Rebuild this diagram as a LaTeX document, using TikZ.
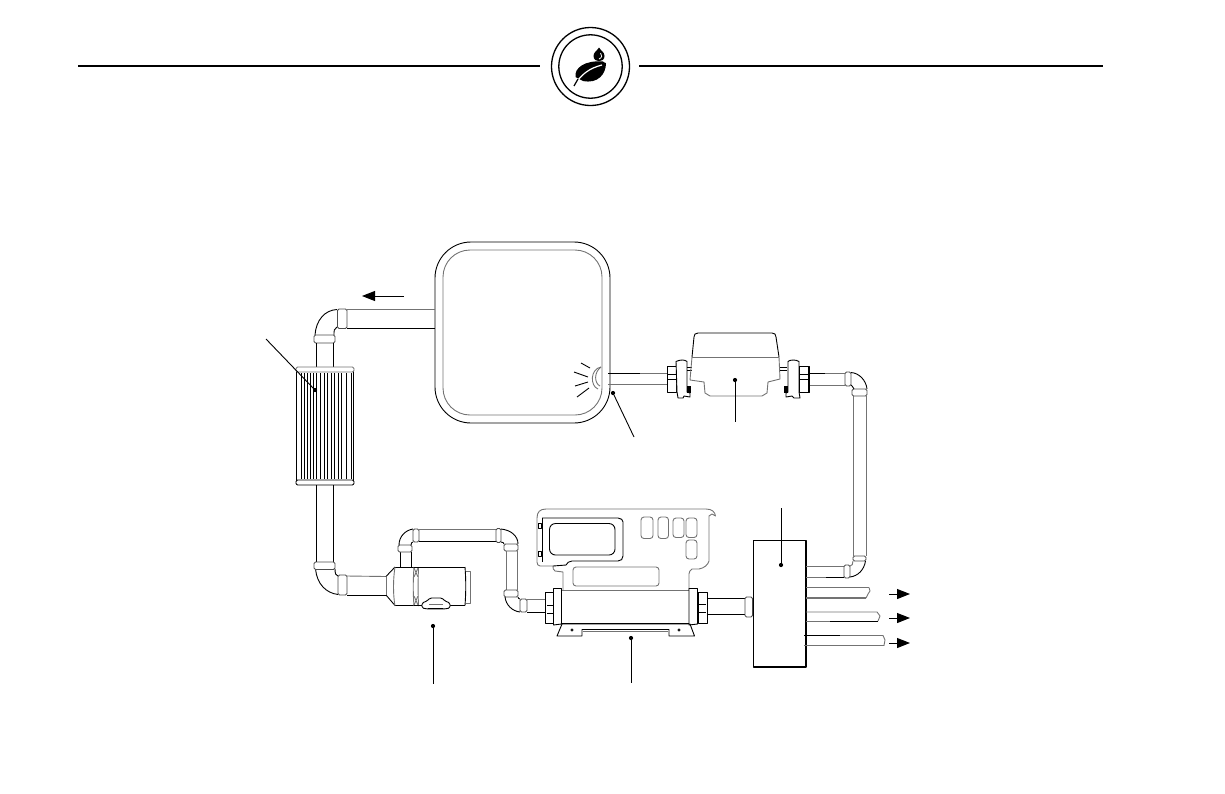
\documentclass[tikz,border=0pt]{standalone}
\usetikzlibrary{arrows.meta}
\tikzset{
 ln/.style={draw=black,line width=0.9pt,line join=round},
 gl/.style={draw=black!55,line width=0.9pt,line join=round},
 rule/.style={draw=black,line width=1.5pt},
 lead/.style={draw=black,line width=0.9pt},
 dot/.style={circle,fill=black,inner sep=0pt,minimum size=4.2pt},
 flowarr/.style={draw=black,line width=1pt,-{Triangle[length=13pt,width=10pt]}},
 collar/.style={draw=black!70,line width=0.9pt,rounded corners=1.5pt,fill=white},
}
\begin{document}
\begin{tikzpicture}[x=1pt,y=-1pt]
\useasboundingbox (0,0) rectangle (1225,793);
% header
\draw[rule] (78,66) -- (540,66);
\draw[rule] (639,66) -- (1103,66);
\draw[line width=1.3pt] (590.5,66.5) circle (39);
\draw[line width=1.3pt] (590.5,66.5) circle (31.7);
% logo
\fill (599,47.5) .. controls (601,51) and (604.5,52) .. (604.5,56) .. controls (604.5,63) and (593.5,63) .. (593.5,56) .. controls (593.5,52) and (597,51) .. (599,47.5) -- cycle;
\draw[white,line width=0.8pt] (600.5,53) .. controls (602.5,55) and (602,58) .. (599,59);
\fill (575.5,77) .. controls (574,68) and (585,60) .. (603,61.5) .. controls (604,62) and (606,64) .. (606,63) .. controls (606,74) and (598,84) .. (583,81) -- cycle;
\draw[white,line width=1.2pt] (574,86) .. controls (581,74) and (590,68) .. (602,65);
\draw[black,line width=1.2pt] (574,86) -- (578,79);
% tank
\draw[ln,rounded corners=36pt] (435,242) rectangle (610,423);
\draw[gl,rounded corners=27pt] (443,250) rectangle (602,415);
% tank light
\draw[gl] (601,367) .. controls (590,369) and (590,386) .. (598,389);
\draw[gl] (601,367) .. controls (594,372) and (594,383) .. (600,386);
\coordinate (r1a) at (581,363); \coordinate (r1b) at (590,368);
\coordinate (r2a) at (574,372); \coordinate (r2b) at (588,377);
\coordinate (r3a) at (575,386); \coordinate (r3b) at (588,382);
\coordinate (r4a) at (577,397); \coordinate (r4b) at (589,388);
\draw[ln] (r1a)--(r1b) (r2a)--(r2b) (r3a)--(r3b) (r4a)--(r4b);
% return pipe & elbow top-left
\draw[gl] (347,309.5) -- (435,309.5);
\draw[ln] (347,328) -- (435,328);
\draw[ln] (337,309.5) .. controls (325,310) and (316,320) .. (315,335);
\draw[ln] (337,327) .. controls (334,328) and (334,331) .. (334,335);
\draw[collar] (337.5,309) rectangle (347,328.5);
\draw[collar] (314,335) rectangle (335,343);
\draw[ln] (316.5,343) -- (316.5,367) (333.5,343) -- (333.5,367);
\coordinate (arr1s) at (404,296); \coordinate (arr1e) at (362,296);
\draw[flowarr] (arr1s) -- (arr1e);
% filter
\draw[ln] (296.5,368) rectangle (353.5,484);
\draw[gl,rounded corners=1.5pt,fill=white] (296,367) rectangle (354,372);
\draw[ln,rounded corners=1.5pt,fill=white] (296,480) rectangle (354,485);
\foreach \x in {301,304.5,307.5,310,313.5,316.5,320.5,324,327.5,331,334.5,338,341.5,346,351}
  \draw[black,line width=0.8pt] (\x,373) -- (\x,479);
\draw[ln] (316.5,485) -- (316.5,562) (333.5,485) -- (333.5,562);
\node[dot] (fd) at (315,390) {};
\coordinate (fl) at (266,339);
\draw[lead] (fl) -- (fd);
% lower-left elbow, to pump
\draw[ln] (315.5,569) .. controls (317,584) and (326,593) .. (338,594.5);
\draw[ln] (335,569) .. controls (335,574) and (336,575.5) .. (338,576);
\draw[collar] (314,562) rectangle (335,569.5);
\draw[collar] (338,575) rectangle (347,595);
\draw[gl] (347,576) -- (386,576.5);
\draw[ln] (347,595) -- (386,595);
\draw[ln] (386,576.5) -- (395,567) (386,595) -- (395,605.5);
\draw[gl] (386,576.5) -- (386,595);
% pump
\draw[ln] (395,567) -- (414,567) (395,605.5) -- (414,605.5);
\draw[gl] (395,567) .. controls (393,580) and (393,594) .. (395,606);
\draw[gl] (414,567) .. controls (413,580) and (413,594) .. (414,606);
\draw[gl] (418.5,567) .. controls (418,580) and (418,594) .. (418.5,606);
\draw[gl] (414,568) -- (418,577) (418,568) -- (414,577) (414,596) -- (418,605) (418,596) -- (414,605);
\draw[ln] (414,567) -- (465,567);
\draw[ln] (414,605.5) -- (422,605.5) (450,605.5) -- (465,605.5);
\draw[ln] (465,567) .. controls (466,580) and (466,592) .. (465,605.5);
\draw[gl] (466,571) -- (470.5,571) -- (470.5,603) -- (466,603);
\draw[ln,fill=white,rounded corners=1.5pt] (422,603) -- (427,601) -- (430,598) -- (442,598) -- (445,601) -- (450,603) -- (450,608) -- (444,609) -- (428,609) -- (422,608) -- cycle;
\draw[black,line width=1.4pt] (428,608.5) -- (443,608.5);
\draw[gl] (429,604.5) -- (443,604.5);
\node[dot] (pd) at (433,626) {};
\coordinate (pl) at (433,684);
\draw[lead] (pd) -- (pl);
% upper pump pipe
\draw[ln] (400,552) -- (400,567) (411,552) -- (411,567);
\draw[collar] (398,545) rectangle (412,552);
\draw[ln] (399,545) .. controls (399,536) and (406,530) .. (413,529);
\draw[ln] (411,545) .. controls (411,543) and (412,542) .. (413,542);
\draw[collar] (413,529) rectangle (419,542);
\draw[gl] (419,529.5) -- (496,529.5);
\draw[ln] (419,541.5) -- (496,541.5);
\draw[collar] (496,528.5) rectangle (501,542.5);
\draw[ln] (501,529) .. controls (511,530) and (518,536) .. (518,544);
\draw[ln] (501,542) .. controls (503,542) and (504,543) .. (504,544);
\draw[collar] (504,544) rectangle (518,551);
\draw[gl] (506,551) -- (506,590);
\draw[gl] (517,551) -- (517,590);
\draw[collar] (504,590) rectangle (518,597);
\draw[ln] (505,597) .. controls (506,605) and (512,611) .. (520,612);
\draw[ln] (518,597) .. controls (518,598) and (519,599) .. (520,599);
\draw[collar] (520,599) rectangle (527,612);
\draw[gl] (527,599.5) -- (545,599.5);
\draw[ln] (527,612) -- (545,612);
% controller board
\draw[gl] (563,590) -- (563,572) -- (555,571) .. controls (553,570) and (553,568) .. (553,566)
  -- (540,566) .. controls (538,566) and (537,564) .. (537,562) -- (537,518) .. controls (537,512) and (540,509) .. (546,509)
  -- (706,509) .. controls (712,509) and (715,512) .. (715.5,516) -- (712,514) -- (709,516) -- (709,561)
  .. controls (708,565) and (704,568) .. (699,569) -- (692,569) .. controls (690,570) and (689,572) .. (689,574) -- (689,590);
\draw[ln] (542,518) -- (618,518) .. controls (621,518) and (623,520) .. (623,522) -- (623,556) .. controls (623,559) and (621,561) .. (618,561) -- (572,561) .. controls (569,561) and (567,563) .. (566,565) -- (553,566);
\draw[ln] (542,518) -- (542,562);
\draw[ln,rounded corners=6pt] (549.5,523.5) rectangle (615,555);
\draw[gl,rounded corners=3pt] (573,567) rectangle (659,586);
\draw[gl,rounded corners=3pt] (641,517) rectangle (653,538.5);
\draw[gl,rounded corners=3pt] (658,517) rectangle (668.5,538.5);
\draw[gl,rounded corners=3pt] (673,518) rectangle (684,537.5);
\draw[gl,rounded corners=3pt] (686,518) rectangle (697,537.5);
\draw[gl,rounded corners=3pt] (686,540) rectangle (697,559);
\draw[ln] (538,523) rectangle (541,528) (538,551) rectangle (541,556);
% heater tube and fittings
\draw[gl] (562,590.5) -- (689,590.5);
\draw[ln] (562,623) -- (689,623);
\draw[ln,fill=white] (545,592.5) rectangle (555,623);
\draw[ln] (547,605) -- (555,605) (547,613) -- (555,613);
\draw[ln,fill=white] (553.5,588.5) -- (561.5,588.5) -- (561.5,624) -- (553.5,625) -- cycle;
\draw[ln,fill=white] (698,592.5) rectangle (707,623);
\draw[ln] (698,604) -- (706,604) (698,612) -- (706,612);
\draw[ln,fill=white] (689,588.5) -- (697.5,588.5) -- (697.5,624) -- (689,625) -- cycle;
% plate
\draw[ln] (557,636) -- (562,624) -- (690,624) -- (694.5,636) -- (669,636) -- (669,629.5) -- (582,629.5) -- (582,636) -- cycle;
\draw[gl] (583,631) -- (668,631);
\draw[black,line width=0.7pt] (572,630) circle (1.2) (679,630) circle (1.2);
\node[dot] (hd) at (631,638) {};
\coordinate (hl) at (631,683);
\draw[lead] (hd) -- (hl);
% pipe to manifold
\draw[ln] (707,598.5) -- (745,598.5) (707,614.5) -- (745,614.5);
% manifold
\draw[ln,line width=1.1pt] (753.5,540.5) rectangle (806,667);
\draw[collar] (745,597) rectangle (752.5,617);
\node[dot] (md) at (781,565) {};
\coordinate (ml) at (781,508);
\draw[lead] (ml) -- (md);
% return to manifold
\draw[gl,line width=1.3pt] (806,566.5) -- (844,566.5);
\draw[gl] (806,577) -- (826,577);
\draw[ln] (826,577) -- (844,577);
\draw[collar] (844,565) rectangle (850,578);
\draw[ln] (850,577) .. controls (858,576) and (864,570) .. (865.5,561);
\draw[gl] (850,566) .. controls (852,566) and (853,564) .. (853,561);
\draw[collar] (853,556) rectangle (866,561);
\draw[gl] (853,396) -- (853,556);
\draw[gl] (866,396) -- (866,556);
\draw[collar] (852,389) rectangle (867,396);
\draw[ln] (851,372.5) .. controls (859,373) and (866,380) .. (867,389);
\draw[ln] (851,385) .. controls (852,386) and (853,387) .. (854,389);
\draw[collar] (845,372) rectangle (851,386);
\draw[ln] (809,373.5) -- (825,373.5);
\draw[gl] (825,373.5) -- (845,373.5);
\draw[gl] (809,385) -- (845,385);
% outlets
\draw[gl] (806,587.5) -- (869,587.5);
\draw[gl,line width=1.3pt] (806,598) -- (866,598);
\draw[gl] (869,587.5) -- (870,591) -- (868,594) -- (866,598);
\draw[gl] (806,612) -- (877,612) -- (880,616) -- (878,621);
\draw[gl] (806,621) -- (830,621);
\draw[ln] (830,621) -- (878,621);
\draw[ln] (804,635.5) -- (840,635.5);
\draw[gl] (840,635.5) -- (883,635.5) -- (885,640) -- (884,645.5) -- (804,645.5);
\coordinate (o1s) at (889,594); \coordinate (o1e) at (910,594);
\coordinate (o2s) at (889,618); \coordinate (o2e) at (910,618);
\coordinate (o3s) at (889,643); \coordinate (o3e) at (910,643);
\draw[flowarr] (o1s) -- (o1e);
\draw[flowarr] (o2s) -- (o2e);
\draw[flowarr] (o3s) -- (o3e);
% tank outlet & meter
\draw[ln] (608,373.5) -- (640,373.5);
\draw[gl] (640,373.5) -- (667,373.5);
\draw[gl] (608,384) -- (667,384);
\draw[ln,fill=white] (667,366) rectangle (676,392);
\draw[black,line width=1.6pt] (667.5,366) -- (667.5,392);
\draw[ln] (668,374) -- (676,374) (668,379) -- (676,379);
\draw[ln,fill=white] (676,361.5) .. controls (680,359.5) and (685,359.5) .. (687,361.5) -- (687,392) -- (690,393) -- (690,397) -- (684,396) -- (683,398) -- (678,398) -- (677,392) -- cycle;
\fill (687,386) rectangle (691,393);
\draw[ln] (687,367) -- (692,367) (687,370) -- (692,370);
% meter body
\draw[ln] (692,357) -- (694,337) .. controls (694.3,334.5) and (695,333) .. (698,333) -- (772,333) .. controls (775,333) and (775.7,334.5) .. (776,337) -- (779,357);
\draw[gl] (692,357) -- (779,357);
\draw[gl] (692,357) -- (690,380) -- (704,382) -- (705,393) -- (710,396) -- (762,396) -- (767,393) -- (768,382) -- (780,379) -- (779,357);
\draw[ln] (780,367) -- (787,367) (780,370) -- (787,370);
\draw[ln,fill=white] (788,361.5) .. controls (790,359.5) and (796,359.5) .. (799,361.5) -- (799,392) -- (800,398) -- (794,398) -- (792,396) -- (786,397) -- (786,393) -- (788,392) -- cycle;
\fill (784,386) rectangle (788,393);
\draw[ln,fill=white] (799,366) rectangle (809,392);
\draw[black,line width=1.6pt] (808.5,366) -- (808.5,392);
\draw[ln] (800,374) -- (808,374) (800,379) -- (808,379);
\node[dot] (vd) at (735,380) {};
\coordinate (vl) at (735,422);
\draw[lead] (vd) -- (vl);
\node[dot] (td) at (613,393) {};
\coordinate (tl) at (634,437);
\draw[lead] (td) -- (tl);
\end{tikzpicture}
\end{document}
